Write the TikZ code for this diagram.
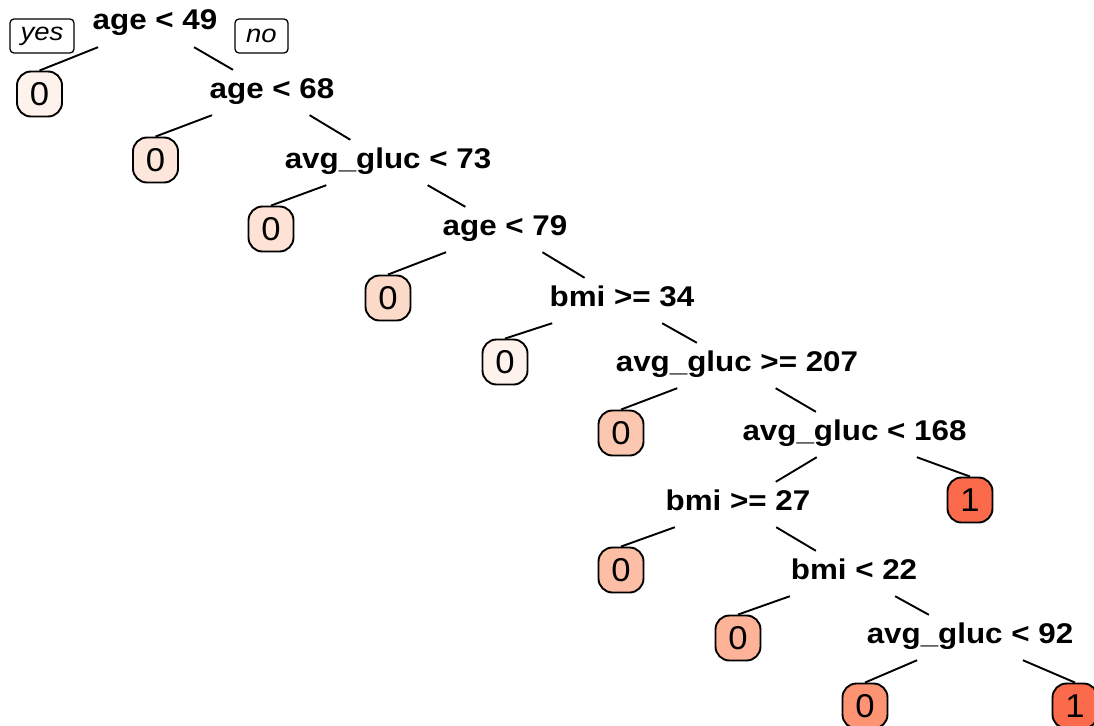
\documentclass[tikz,border=0pt]{standalone}
\usepackage{fontspec}
\setmainfont{Liberation Sans}[FakeStretch=1.1]
\newfontfamily\leaffont{Liberation Sans}[FakeStretch=1.05]
\definecolor{c1}{HTML}{FEF3EC}
\definecolor{c2}{HTML}{FDE6DC}
\definecolor{c3}{HTML}{FDE2D5}
\definecolor{c4}{HTML}{FCDACA}
\definecolor{c5}{HTML}{FEF3EC}
\definecolor{c6}{HTML}{FCC7B1}
\definecolor{c8}{HTML}{FCBEA5}
\definecolor{c9}{HTML}{FCB398}
\definecolor{c10}{HTML}{FC9474}
\definecolor{cone}{HTML}{FB6A4A}
\begin{document}
\begin{tikzpicture}[x=1pt,y=-1pt,
  split/.style={font=\fontsize{28.5}{31}\selectfont\bfseries, inner xsep=2pt, inner ysep=0pt,
    text height=28pt, text depth=17pt, anchor=base},
  leaf/.style={draw, line width=1.9pt, rounded corners=14pt, minimum width=45pt, minimum height=45pt,
    inner sep=0pt, font=\leaffont\fontsize{33}{36}\selectfont},
  tag/.style={draw, line width=1.3pt, rounded corners=4pt, minimum height=34pt, inner sep=0pt,
    font=\fontsize{25}{28}\selectfont\itshape},
  edge/.style={line width=1.9pt}]
\useasboundingbox (0,0) rectangle (1094,725);
% split nodes
\node[split] (n1) at (155,30) {age < 49};
\node[split] (n2) at (272,98) {age < 68};
\node[split] (n3) at (388,168) {avg\_gluc < 73};
\node[split] (n4) at (505,235) {age < 79};
\node[split] (n5) at (622,306) {bmi >= 34};
\node[split] (n6) at (737,371) {avg\_gluc >= 207};
\node[split] (n7) at (854.5,440) {avg\_gluc < 168};
\node[split] (n8) at (738,510) {bmi >= 27};
\node[split] (n9) at (854,579) {bmi < 22};
\node[split] (n10) at (970,643) {avg\_gluc < 92};
% leaves
\node[leaf, fill=c1] (l1) at (39.5,94) {0};
\node[leaf, fill=c2] (l2) at (155.5,160) {0};
\node[leaf, fill=c3] (l3) at (271,229) {0};
\node[leaf, fill=c4] (l4) at (388,298) {0};
\node[leaf, fill=c5] (l5) at (505,362) {0};
\node[leaf, fill=c6] (l6) at (621,433) {0};
\node[leaf, fill=cone] (l7) at (970,500) {1};
\node[leaf, fill=c8] (l8) at (621,570) {0};
\node[leaf, fill=c9] (l9) at (738,638) {0};
\node[leaf, fill=c10] (l10) at (865,706) {0};
\node[leaf, fill=cone] (l11) at (1075,706) {1};
% yes / no
\node[tag, minimum width=64pt] (yes) at (42,36) {yes};
\node[tag, minimum width=53pt] (no) at (261.5,36) {no};
% edges
\draw[edge] (n1) -- (l1.north);
\draw[edge] (n1) -- (n2);
\draw[edge] (n2) -- (l2.north);
\draw[edge] (n2) -- (n3);
\draw[edge] (n3) -- (l3.north);
\draw[edge] (n3) -- (n4);
\draw[edge] (n4) -- (l4.north);
\draw[edge] (n4) -- (n5);
\draw[edge] (n5) -- (l5.north);
\draw[edge] (n5) -- (n6);
\draw[edge] (n6) -- (l6.north);
\draw[edge] (n6) -- (n7);
\draw[edge] (n7) -- (n8);
\draw[edge] (n7) -- (l7.north);
\draw[edge] (n8) -- (l8.north);
\draw[edge] (n8) -- (n9);
\draw[edge] (n9) -- (l9.north);
\draw[edge] (n9) -- (n10);
\draw[edge] (n10) -- (l10.north);
\draw[edge] (n10) -- (l11.north);
\end{tikzpicture}
\end{document}
